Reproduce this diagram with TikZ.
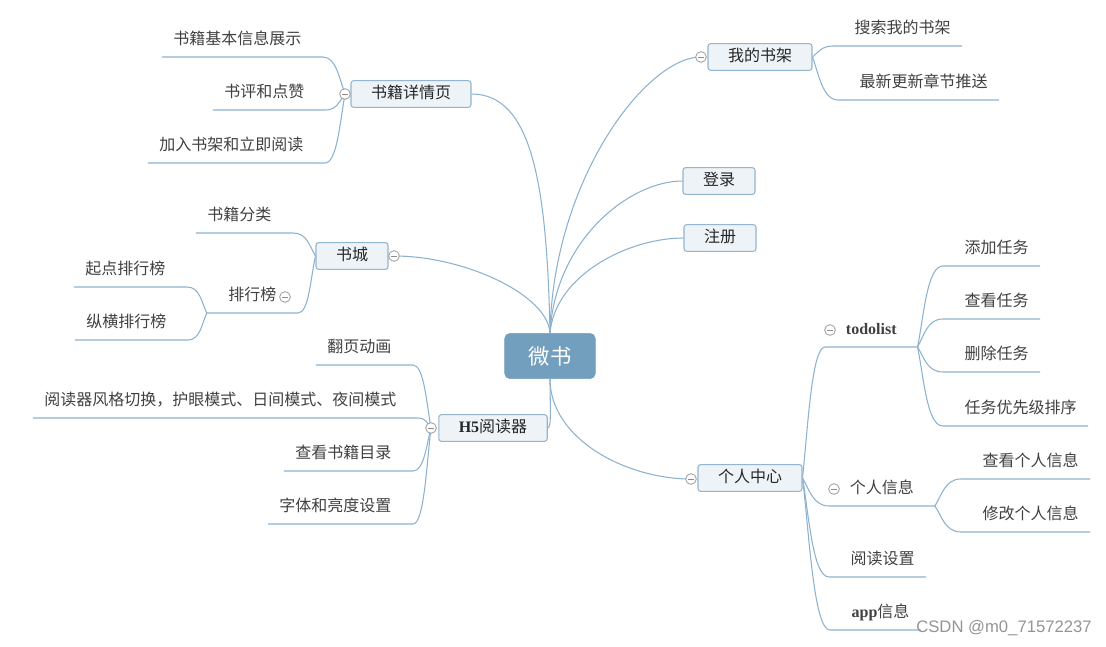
\documentclass[tikz,border=0pt]{standalone}
\usepackage{fontspec}
\setmainfont{Noto Sans CJK SC}
\newfontfamily\latfont{Liberation Serif}
\newfontfamily\wmfont{Liberation Sans}
\usepackage{tikz}
\usetikzlibrary{positioning, backgrounds}

\definecolor{linkblue}{HTML}{8DB2CF}
\definecolor{boxfill}{HTML}{EEF3F7}
\definecolor{boxline}{HTML}{93B6CF}
\definecolor{hubfill}{HTML}{739FBF}
\definecolor{leaftext}{HTML}{404040}

\begin{document}
\begin{tikzpicture}[
    x=0.75pt, y=-0.75pt,
    hub/.style={
        rectangle, rounded corners=4pt, fill=hubfill, draw=hubfill,
        minimum width=68pt, minimum height=34pt,
        text=white, font=\fontsize{16}{18}\selectfont
    },
    topic/.style={
        rectangle, rounded corners=2pt, fill=boxfill, draw=boxline,
        line width=0.8pt, minimum height=20pt,
        inner xsep=15pt, inner ysep=0pt,
        text height=9pt, text depth=2.5pt,
        text=black!85, font=\fontsize{12}{14}\selectfont
    },
    leaf/.style={
        inner xsep=0pt, inner ysep=7pt,
        text height=9pt, text depth=2pt,
        text=leaftext, font=\fontsize{12}{14}\selectfont
    },
    lleaf/.style={leaf, anchor=south east,
        execute at begin node={\hspace{8.5pt}},
        execute at end node={\hspace{16pt}}},
    rleaf/.style={leaf, anchor=south west,
        execute at begin node={\hspace{16pt}},
        execute at end node={\hspace{8.5pt}}},
    fold/.style={
        circle, draw=black!40, fill=white, line width=0.6pt,
        minimum size=8pt, inner sep=0pt,
        path picture={\draw[black!45, line width=0.6pt]
            ([xshift=1.6pt]path picture bounding box.west) --
            ([xshift=-1.6pt]path picture bounding box.east);}
    },
    link/.style={draw=linkblue, line width=0.8pt},
]
\useasboundingbox (0,0) rectangle (1106,646);

%% Centre
\node[hub] (wb) at (550,356) {微书};

%% Main topics
\node[topic] (xq) at (411,94) {书籍详情页};
\node[fold] (xqf) at (345,94) {};
\node[topic] (sj) at (760,57) {我的书架};
\node[fold] (sjf) at (701,57) {};
\node[topic] (dl) at (719,181) {登录};
\node[topic] (zc) at (720,238) {注册};
\node[topic] (sc) at (352,256) {书城};
\node[fold] (scf) at (394,256) {};
\node[topic] (h5) at (493,428) {{\latfont\bfseries H5}阅读器};
\node[fold] (h5f) at (431,428) {};
\node[topic] (gr) at (750,478) {个人中心};
\node[fold] (grf) at (691,479) {};

%% 书籍详情页
\node[lleaf] (xq1) at (323,57) {书籍基本信息展示};
\node[lleaf] (xq2) at (326,110) {书评和点赞};
\node[lleaf] (xq3) at (325,163) {加入书架和立即阅读};

%% 我的书架
\node[rleaf] (sj1) at (833,46) {搜索我的书架};
\node[rleaf] (sj2) at (838,100) {最新更新章节推送};

%% 书城
\node[lleaf] (sc1) at (293,233) {书籍分类};
\node[leaf, anchor=south east, minimum width=68pt] (ph) at (298,313) {排行榜};
\node[fold] (phf) at (285,297) {};
\node[lleaf] (ph1) at (187,287) {起点排行榜};
\node[lleaf] (ph2) at (188,340) {纵横排行榜};

%% H5阅读器
\node[lleaf] (rd1) at (413,365) {翻页动画};
\node[lleaf] (rd2) at (418,418) {阅读器风格切换，护眼模式、日间模式、夜间模式};
\node[lleaf] (rd3) at (413,471) {查看书籍目录};
\node[lleaf] (rd4) at (413,524) {字体和亮度设置};

%% 个人中心
\node[leaf, anchor=south west, minimum width=69pt] (td) at (825,347) {{\latfont\bfseries todolist}};
\node[fold] (tdf) at (830,330) {};
\node[rleaf] (td1) at (943,266) {添加任务};
\node[rleaf] (td2) at (943,319) {查看任务};
\node[rleaf] (td3) at (943,372) {删除任务};
\node[rleaf] (td4) at (943,426) {任务优先级排序};
\node[leaf, anchor=south west, minimum width=79pt] (xx) at (829,506) {个人信息};
\node[fold] (xxf) at (834,489) {};
\node[rleaf] (xx1) at (961,479) {查看个人信息};
\node[rleaf] (xx2) at (961,532) {修改个人信息};
\node[rleaf] (ydsz) at (829,577) {阅读设置};
\node[rleaf] (app) at (830,630) {{\latfont\bfseries app}信息};

%% Watermark
\node[font=\wmfont\fontsize{12.5}{15}\selectfont, text=black!42] (wm) at (1004,628) {CSDN @m0\_71572237};

\begin{scope}[on background layer]
%% centre -> topics
\draw[link] (xq.east) .. controls +(60,0) and +(-3,-150) .. (wb.north);
\draw[link] (sjf.center) .. controls +(-55,0) and +(3,-153) .. (wb.north);
\draw[link] (dl.west) .. controls +(-53,0) and +(5,-93) .. (wb.north);
\draw[link] (zc.west) .. controls +(-55,0) and +(5,-58) .. (wb.north);
\draw[link] (scf.center) .. controls +(71,0) and +(-2,-38) .. (wb.north);
\draw[link] (wb.south) .. controls +(0,25) and +(4,0) .. (h5.east);
\draw[link] (wb.south) .. controls +(0,60) and +(-65,0) .. (grf.center);

%% 书籍详情页
\draw[link] (xqf.center) .. controls +(-5.5,-15) and +(13,0) .. (xq1.south east) -- (xq1.south west);
\draw[link] (xqf.center) .. controls +(-5,6) and +(11,0) .. (xq2.south east) -- (xq2.south west);
\draw[link] (xqf.center) .. controls +(-5,28) and +(12,0) .. (xq3.south east) -- (xq3.south west);

%% 我的书架
\draw[link] (sj.east) .. controls +(5,-4) and +(-12,0) .. (sj1.south west) -- (sj1.south east);
\draw[link] (sj.east) .. controls +(6,17) and +(-15,0) .. (sj2.south west) -- (sj2.south east);

%% 书城
\draw[link] (sc.west) .. controls +(-6,-10) and +(14,0) .. (sc1.south east) -- (sc1.south west);
\draw[link] (sc.west) .. controls +(-5,22) and +(11,0) .. (ph.south east) -- (ph.south west);
\draw[link] (ph.south west) .. controls +(-5,-10) and +(13,0) .. (ph1.south east) -- (ph1.south west);
\draw[link] (ph.south west) .. controls +(-5,11) and +(12,0) .. (ph2.south east) -- (ph2.south west);

%% H5阅读器
\draw[link] (h5f.center) .. controls +(-4.5,-25) and +(11,0) .. (rd1.south east) -- (rd1.south west);
\draw[link] (h5f.center) .. controls +(-3,-4) and +(8,0) .. (rd2.south east) -- (rd2.south west);
\draw[link] (h5f.center) .. controls +(-4.5,17) and +(11,0) .. (rd3.south east) -- (rd3.south west);
\draw[link] (h5f.center) .. controls +(-4.5,38) and +(11,0) .. (rd4.south east) -- (rd4.south west);

%% 个人中心
\draw[link] (gr.east) .. controls +(5.5,-53) and +(-13,0) .. (td.south west) -- (td.south east);
\draw[link] (gr.east) .. controls +(6.5,11) and +(-16,0) .. (xx.south west) -- (xx.south east);
\draw[link] (gr.east) .. controls +(6.5,39) and +(-16,0) .. (ydsz.south west) -- (ydsz.south east);
\draw[link] (gr.east) .. controls +(7,60) and +(-16,0) .. (app.south west) -- (app.south east);

%% todolist
\draw[link] (td.south east) .. controls +(6.5,-32) and +(-16,0) .. (td1.south west) -- (td1.south east);
\draw[link] (td.south east) .. controls +(6.5,-11) and +(-16,0) .. (td2.south west) -- (td2.south east);
\draw[link] (td.south east) .. controls +(6.5,10) and +(-16,0) .. (td3.south west) -- (td3.south east);
\draw[link] (td.south east) .. controls +(6.5,32) and +(-16,0) .. (td4.south west) -- (td4.south east);

%% 个人信息
\draw[link] (xx.south east) .. controls +(7,-11) and +(-16,0) .. (xx1.south west) -- (xx1.south east);
\draw[link] (xx.south east) .. controls +(7,10) and +(-16,0) .. (xx2.south west) -- (xx2.south east);
\end{scope}

\end{tikzpicture}
\end{document}
